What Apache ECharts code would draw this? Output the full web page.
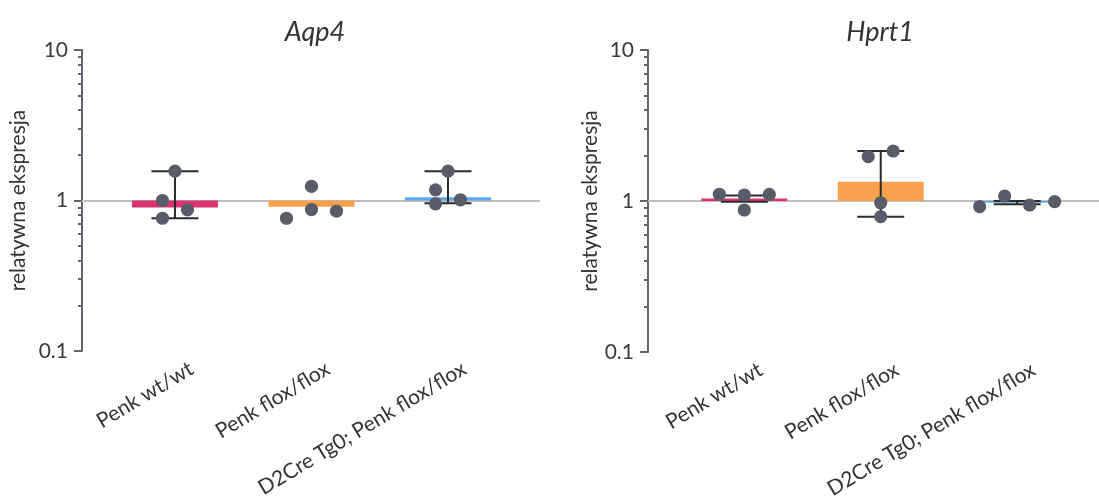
<!DOCTYPE html>
<html><head><meta charset="utf-8">
<script src="https://cdn.jsdelivr.net/npm/echarts@6/dist/echarts.min.js"></script>
<style>html,body{margin:0;padding:0;background:#fff}#c{width:1099px;height:504px}</style>
</head><body><div id="c"></div>
<script>
// ---- data ----
const categories = ['Penk wt/wt', 'Penk flox/flox', 'D2Cre Tg0; Penk flox/flox'];
const yMajorTicks = [0.1, 1, 10];
const yMinorTicks = [0.2, 0.3, 0.4, 0.5, 0.6, 0.7, 0.8, 0.9, 2, 3, 4, 5, 6, 7, 8, 9];

const aqp4Bars = [0.90, 0.91, 1.05];
const aqp4ErrLow = [0.762, null, 0.959];
const aqp4ErrHigh = [1.567, null, 1.567];
const aqp4Dots = [
  [1.567, 1.0, 0.867, 0.762],
  [1.24, 0.762, 0.871, 0.849],
  [1.567, 1.178, 1.011, 0.95]
];

const hprt1Bars = [1.04, 1.342, 0.975];
const hprt1ErrLow = [0.99, 0.787, 0.951];
const hprt1ErrHigh = [1.088, 2.144, 1.0];
const hprt1Dots = [
  [1.108, 1.096, 1.105, 0.872],
  [1.965, 2.144, 0.974, 0.787],
  [0.918, 1.079, 0.941, 0.99]
];

// ---- styles ----
const barColors = ['#dc3470', '#f9a04e', '#5aa8ee'];
const AXIS = '#63656e', DOT = '#585c68', ERR = '#2b2b2b', BASE = '#bfbfbf', TXT = '#333333';
const FONT = 'Lato, "Open Sans", sans-serif';
const DOT_R = 6.6, STEP = 25, ROW_H = 12.5, CAP = 47, BAR_W = 86, LABEL_SHIFT = 0.12;

const panels = [
  { title: 'Aqp4', bars: aqp4Bars, lo: aqp4ErrLow, hi: aqp4ErrHigh, dots: aqp4Dots,
    grid: { left: 82, top: 50, width: 458, height: 301 }, xMin: -0.681, xMax: 2.674, nameGap: 53, titleX: 310 },
  { title: 'Hprt1', bars: hprt1Bars, lo: hprt1ErrLow, hi: hprt1ErrHigh, dots: hprt1Dots,
    grid: { left: 648, top: 50, width: 451, height: 302 }, xMin: -0.706, xMax: 2.60, nameGap: 45, titleX: 875 }
];

function errRender(params, api) {
  const i = api.value(0);
  const x = api.coord([i, 1])[0];
  const yl = api.coord([i, api.value(1)])[1];
  const yh = api.coord([i, api.value(2)])[1];
  const st = { stroke: ERR, lineWidth: 2 };
  return { type: 'group', children: [
    { type: 'line', shape: { x1: x, y1: yl, x2: x, y2: yh }, style: st },
    { type: 'line', shape: { x1: x - CAP / 2, y1: yl, x2: x + CAP / 2, y2: yl }, style: st },
    { type: 'line', shape: { x1: x - CAP / 2, y1: yh, x2: x + CAP / 2, y2: yh }, style: st }
  ]};
}

function makeDotRender(dots) {
  return function (params, api) {
    const i = api.value(0);
    const cx = api.coord([i, 1])[0];
    const n = dots[params.dataIndex].length;
    const pts = [];
    for (let k = 1; k <= n; k++) pts.push({ k: k, y: api.coord([i, api.value(k)])[1] });
    const sorted = pts.slice().sort((a, b) => a.y - b.y);
    const rows = [];
    sorted.forEach(p => {
      const r = rows[rows.length - 1];
      if (r && p.y - r[0].y < ROW_H) r.push(p); else rows.push([p]);
    });
    let prev = null;
    rows.forEach(r => {
      r.sort((a, b) => a.k - b.k);
      const m = r.length;
      let half = m % 2 === 0;
      let offs = r.map((p, j) => (j - (m - 1) / 2) * STEP);
      if (m === 1 && prev && prev.half && (r[0].y - prev.lastY) < STEP) { offs = [-STEP / 2]; half = true; }
      r.forEach((p, j) => { p.x = cx + offs[j]; });
      prev = { half: half, lastY: Math.max.apply(null, r.map(p => p.y)) };
    });
    return { type: 'group', children: pts.map(p => ({
      type: 'circle', shape: { cx: p.x, cy: p.y, r: DOT_R }, style: { fill: DOT }
    })) };
  };
}

const option = { animation: false, title: [], grid: [], xAxis: [], yAxis: [], series: [] };

panels.forEach((P, p) => {
  option.title.push({ text: P.title, left: P.titleX, top: 14, textAlign: 'center',
    textStyle: { fontFamily: FONT, fontStyle: 'italic', fontWeight: 'normal', fontSize: 27, color: TXT } });
  option.grid.push(Object.assign({ containLabel: false }, P.grid));
  option.xAxis.push({ type: 'value', gridIndex: p, min: P.xMin, max: P.xMax,
    axisLine: { show: false }, axisTick: { show: false }, splitLine: { show: false },
    axisLabel: { customValues: categories.map((c, i) => i + LABEL_SHIFT),
      formatter: v => categories[Math.round(v)], rotate: 31, margin: 16,
      fontFamily: FONT, fontSize: 21, color: TXT } });
  option.yAxis.push({ type: 'log', logBase: 10, gridIndex: p, min: 0.1, max: 10,
    name: 'relatywna ekspresja', nameLocation: 'middle', nameGap: P.nameGap,
    nameTextStyle: { fontFamily: FONT, fontSize: 21, color: TXT },
    axisLine: { show: true, onZero: false, lineStyle: { color: AXIS, width: 2 } },
    axisTick: { show: true, length: 8, customValues: yMajorTicks, lineStyle: { color: AXIS, width: 2 } },
    axisLabel: { customValues: yMajorTicks, formatter: v => String(v), margin: 14,
      fontFamily: FONT, fontSize: 21, color: '#3a3a3a' },
    splitLine: { show: false } });
  option.yAxis.push({ type: 'log', logBase: 10, gridIndex: p, min: 0.1, max: 10, position: 'left',
    axisLine: { show: false, onZero: false }, axisLabel: { show: false }, splitLine: { show: false },
    axisTick: { show: true, length: 4, customValues: yMinorTicks, lineStyle: { color: AXIS, width: 2 } } });

  option.series.push({ type: 'bar', xAxisIndex: p, yAxisIndex: 2 * p, barWidth: BAR_W, z: 2,
    data: P.bars.map((v, i) => ({ value: [i, v], itemStyle: { color: barColors[i] } })),
    markLine: { silent: true, symbol: 'none', label: { show: false }, z: 1,
      lineStyle: { color: BASE, width: 2, type: 'solid' }, data: [{ yAxis: 1 }] } });
  const errData = [];
  P.lo.forEach((l, i) => { if (l != null) errData.push([i, l, P.hi[i]]); });
  option.series.push({ type: 'custom', xAxisIndex: p, yAxisIndex: 2 * p, z: 3,
    encode: { x: 0, y: [1, 2] }, data: errData, renderItem: errRender });
  option.series.push({ type: 'custom', xAxisIndex: p, yAxisIndex: 2 * p, z: 4,
    encode: { x: 0, y: [1, 2, 3, 4] }, data: P.dots.map((arr, i) => [i].concat(arr)),
    renderItem: makeDotRender(P.dots) });
});

const chart = echarts.init(document.getElementById('c'), null, { renderer: 'canvas' });
chart.setOption(option);
</script></body></html>
